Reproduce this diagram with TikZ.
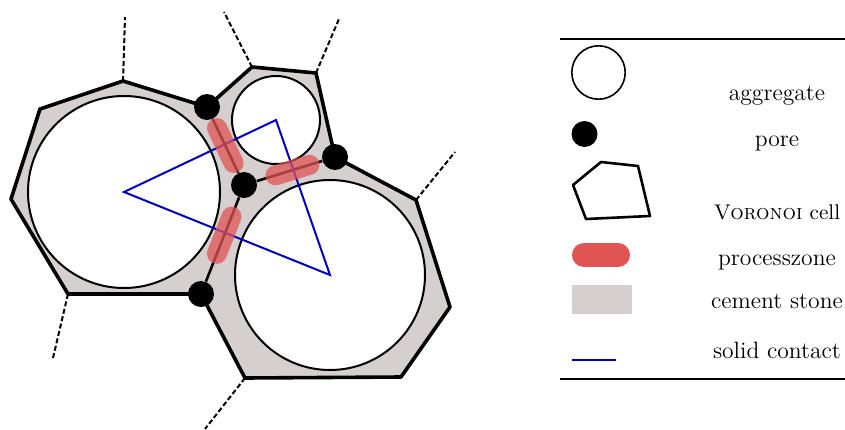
\documentclass[tikz,border=0pt]{standalone}
\usetikzlibrary{calc}
\definecolor{cement}{RGB}{214,207,207}
\definecolor{pzred}{RGB}{224,84,84}
\definecolor{contactblue}{RGB}{0,0,190}
\begin{document}
\begin{tikzpicture}[x=0.5pt,y=-0.5pt,
  cellline/.style={line width=1.8pt, line join=round},
  inneredge/.style={line width=1.3pt},
  aggr/.style={circle, draw, fill=white, line width=1pt, inner sep=0pt},
  porenode/.style={circle, fill=black, inner sep=0pt, minimum size=13pt},
  pz/.style={line width=10pt, line cap=round, draw=pzred, opacity=0.75},
  dashedge/.style={line width=1pt, dash pattern=on 2.5pt off 1.3pt},
  contact/.style={draw=contactblue, line width=1pt, line join=miter},
  rule/.style={line width=1.1pt},
  lbl/.style={anchor=base, inner sep=0pt, font=\fontsize{11.8}{14}\selectfont}
]
\useasboundingbox (0,0) rectangle (845,429);
% pore centres
\coordinate (cA) at (207,107);
\coordinate (cM) at (244,185);
\coordinate (cR) at (335,157);
\coordinate (cB) at (201,294);
% cell vertices
\coordinate (v1) at (252,67);
\coordinate (v2) at (316,73);
\coordinate (v3) at (416,200);
\coordinate (v4) at (450,307);
\coordinate (v5) at (401,377);
\coordinate (v6) at (245,378);
\coordinate (v7) at (68,294);
\coordinate (v8) at (11,199);
\coordinate (v9) at (40,109);
\coordinate (v10) at (123,81);
% dashed ends
\coordinate (d1) at (125,17);
\coordinate (d2) at (224,12);
\coordinate (d3) at (339,19);
\coordinate (d4) at (455,152);
\coordinate (d5) at (53,358);
\coordinate (d6) at (205,429);
\draw[dashedge] (v10) -- (d1);
\draw[dashedge] (v1) -- (d2);
\draw[dashedge] (v2) -- (d3);
\draw[dashedge] (v3) -- (d4);
\draw[dashedge] (v7) -- (d5);
\draw[dashedge] (v6) -- (d6);
% cement stone with Voronoi boundary
\filldraw[fill=cement, cellline] (cA) -- (v1) -- (v2) -- (cR) -- (v3) -- (v4) -- (v5) -- (v6) -- (cB) -- (v7) -- (v8) -- (v9) -- (v10) -- cycle;
% pores
\node[porenode] (pA) at (cA) {};
\node[porenode] (pM) at (cM) {};
\node[porenode] (pR) at (cR) {};
\node[porenode] (pB) at (cB) {};
\draw[inneredge] (pA) -- (pM);
\draw[inneredge] (pM) -- (pR);
\draw[inneredge] (pM) -- (pB);
% aggregates
\node[aggr, minimum size=96pt] (agL) at (124,192) {};
\node[aggr, minimum size=44pt] (agS) at (276,120) {};
\node[aggr, minimum size=95pt] (agR) at (330,275) {};
% solid contact
\draw[contact] (agL.center) -- (agS.center) -- (agR.center) -- cycle;
% process zones
\draw[pz] ($(cA)!0.27!(cM)$) -- ($(cA)!0.718!(cM)$);
\draw[pz] ($(cM)!0.345!(cR)$) -- ($(cM)!0.72!(cR)$);
\draw[pz] ($(cM)!0.29!(cB)$) -- ($(cM)!0.631!(cB)$);
% legend
\coordinate (r1a) at (560,39);
\coordinate (r1b) at (845,39);
\coordinate (r2a) at (560,379);
\coordinate (r2b) at (845,379);
\draw[rule] (r1a) -- (r1b);
\draw[rule] (r2a) -- (r2b);
\node[aggr, minimum size=26.7pt, line width=0.8pt] (la) at (598.5,72.5) {};
\node[porenode] (lp) at (584.5,134) {};
\draw[line width=1.3pt, line join=round] (573,185) -- (601,162) -- (638,166) -- (650,216) -- (586,219) -- cycle;
\draw[line width=12pt, line cap=round, pzred] (584,255) -- (618,255);
\fill[cement] (572,285) rectangle (632,314);
\draw[draw=contactblue, line width=1.3pt] (572,360) -- (616,360);
\node[lbl] (t1) at (777,100) {aggregate};
\node[lbl] (t2) at (777,146.5) {pore};
\node[lbl, font=\fontsize{10.6}{13}\selectfont] (t3) at (777,219) {\textsc{Voronoi} cell};
\node[lbl] (t4) at (777,265) {processzone};
\node[lbl] (t5) at (777,308) {cement stone};
\node[lbl] (t6) at (777,358) {solid contact};
\end{tikzpicture}
\end{document}
